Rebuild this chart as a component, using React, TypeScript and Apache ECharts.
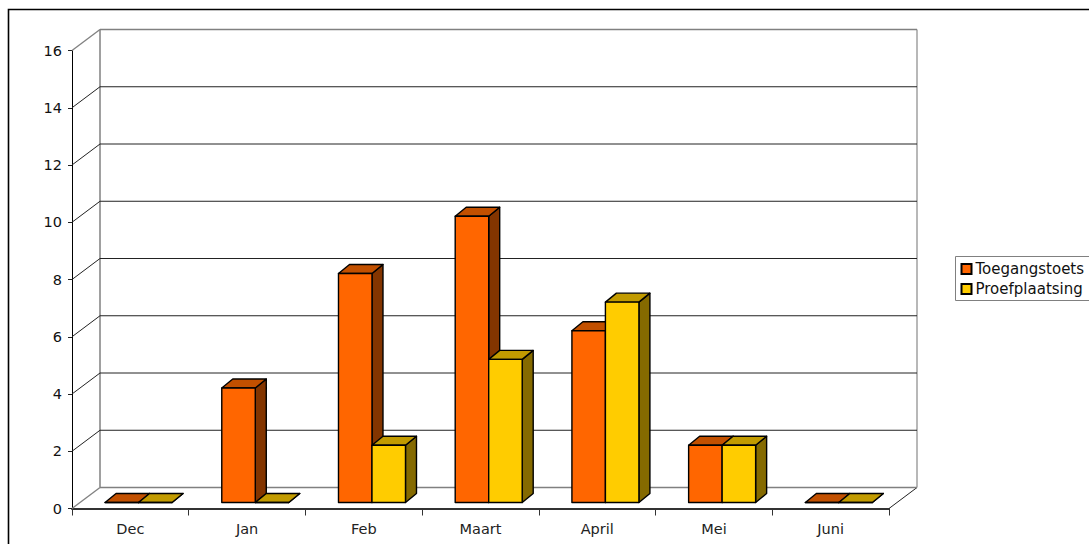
import React, { useEffect, useRef } from "react";
import * as echarts from "echarts";

const categories = ["Dec", "Jan", "Feb", "Maart", "April", "Mei", "Juni"];
const toegangstoets = [0, 4, 8, 10, 6, 2, 0];
const proefplaatsing = [0, 0, 2, 5, 7, 2, 0];
const yTicks = [0, 2, 4, 6, 8, 10, 12, 14, 16];
const seriesNames = ["Toegangstoets", "Proefplaatsing"];

const FONT = "'DejaVu Sans', Verdana, sans-serif";
const WALL_DX = 28;
const WALL_DY = -21;
const BAR_SHIFT_X = 8.2;
const BAR_SHIFT_Y = -6;
const BAR_W = 33.5;
const BAR_DX = 11;
const BAR_DY = -9;

const wallItem = (params: any, api: any) => {
  const v = api.value(0);
  const cs = params.coordSys;
  const y = api.coord([0, v])[1];
  const x0 = cs.x;
  const x1 = cs.x + cs.width;
  const isEdge = v === 0 || v === yTicks[yTicks.length - 1];
  const stroke = isEdge ? "#808080" : "#222222";
  const width = isEdge ? 1.5 : 1;
  const children: any[] = [];
  if (v === 0) {
    const top = cs.y + WALL_DY;
    children.push({
      type: "line",
      shape: { x1: x0 + WALL_DX, y1: top, x2: x0 + WALL_DX, y2: y + WALL_DY },
      style: { stroke: "#808080", lineWidth: 1.5 },
    });
    children.push({
      type: "line",
      shape: { x1: x1 + WALL_DX, y1: top, x2: x1 + WALL_DX, y2: y + WALL_DY },
      style: { stroke: "#a0a0a0", lineWidth: 1.5 },
    });
    children.push({
      type: "line",
      shape: { x1: x1, y1: y, x2: x1 + WALL_DX, y2: y + WALL_DY },
      style: { stroke: "#222222", lineWidth: 1 },
    });
  }
  children.push({
    type: "line",
    shape: { x1: x0 + WALL_DX, y1: y + WALL_DY, x2: x1 + WALL_DX, y2: y + WALL_DY },
    style: { stroke, lineWidth: width },
  });
  children.push({
    type: "line",
    shape: { x1: x0, y1: y, x2: x0 + WALL_DX, y2: y + WALL_DY },
    style: { stroke, lineWidth: v === 0 || v === 16 ? 1.3 : 1 },
  });
  return { type: "group", children };
};

const barItem = (side: number, front: string, topC: string, sideC: string) => (_p: any, api: any) => {
  const i = api.value(0);
  const v = api.value(1);
  const [cx, yVal] = api.coord([i, v]);
  const yZero = api.coord([i, 0])[1];
  const xl = cx + BAR_SHIFT_X + (side === 0 ? -BAR_W : 0);
  const xr = xl + BAR_W;
  const yb = yZero + BAR_SHIFT_Y;
  const yt = yVal + BAR_SHIFT_Y;
  const border = { stroke: "#000000", lineWidth: 1.4, lineJoin: "round" };
  return {
    type: "group",
    children: [
      {
        type: "polygon",
        shape: { points: [[xr, yb], [xr + BAR_DX, yb + BAR_DY], [xr + BAR_DX, yt + BAR_DY], [xr, yt]] },
        style: { fill: sideC, ...border },
      },
      {
        type: "polygon",
        shape: { points: [[xl, yt], [xl + BAR_DX, yt + BAR_DY], [xr + BAR_DX, yt + BAR_DY], [xr, yt]] },
        style: { fill: topC, ...border },
      },
      {
        type: "rect",
        shape: { x: xl, y: yt, width: BAR_W, height: yb - yt },
        style: { fill: front, ...border },
      },
    ],
  };
};

export default function App() {
  const ref = useRef<HTMLDivElement>(null);
  useEffect(() => {
    const chart = echarts.init(ref.current!, undefined, { renderer: "svg" });
    chart.setOption({
      animation: false,
      backgroundColor: "#ffffff",
      textStyle: { fontFamily: FONT },
      grid: { left: 72, top: 50.5, width: 817, height: 458 },
      legend: {
        data: seriesNames,
        orient: "vertical",
        left: 955.5,
        top: 256.5,
        padding: [5, 40, 4, 5],
        itemGap: 5,
        itemWidth: 10,
        itemHeight: 10,
        icon: "rect",
        borderColor: "#808080",
        borderWidth: 1,
        backgroundColor: "#ffffff",
        textStyle: { fontFamily: FONT, fontSize: 15, color: "#111111", padding: [1, 0, 0, -1] },
        selectedMode: false,
      },
      xAxis: {
        type: "category",
        data: categories,
        boundaryGap: true,
        axisLine: { lineStyle: { color: "#333333", width: 2 } },
        axisTick: { show: true, length: 7, interval: 0, lineStyle: { color: "#333333", width: 1 }, alignWithLabel: false },
        axisLabel: { fontFamily: FONT, fontSize: 14.5, color: "#222222", margin: 13 },
        splitLine: { show: false },
      },
      yAxis: {
        type: "value",
        min: 0,
        max: 16,
        interval: 2,
        axisLine: { show: true, lineStyle: { color: "#000000", width: 1 } },
        axisTick: { show: true, length: 4, lineStyle: { color: "#222222", width: 1 } },
        axisLabel: { fontFamily: FONT, fontSize: 14.5, color: "#111111", margin: 10 },
        splitLine: { show: false },
      },
      graphic: [
        {
          type: "rect",
          shape: { x: 8.5, y: 9.5, width: 1200, height: 700 },
          style: { fill: "transparent", stroke: "#000000", lineWidth: 1.6 },
          silent: true,
          z: 100,
        },
      ],
      series: [
        {
          type: "custom",
          name: "wall",
          silent: true,
          z: 1,
          clip: false,
          renderItem: wallItem,
          encode: { y: 0 },
          data: yTicks.map((t) => [t]),
        },
        {
          type: "custom",
          name: seriesNames[0],
          z: 2,
          clip: false,
          itemStyle: { color: "#FF6600", borderColor: "#000000", borderWidth: 1 },
          renderItem: barItem(0, "#FF6600", "#C25000", "#833500"),
          encode: { x: 0, y: 1 },
          data: toegangstoets.map((v, i) => [i, v]),
        },
        {
          type: "custom",
          name: seriesNames[1],
          z: 3,
          clip: false,
          itemStyle: { color: "#FFCC00", borderColor: "#000000", borderWidth: 1 },
          renderItem: barItem(1, "#FFCC00", "#C29B00", "#856A00"),
          encode: { x: 0, y: 1 },
          data: proefplaatsing.map((v, i) => [i, v]),
        },
      ],
    });
    return () => chart.dispose();
  }, []);
  return (
    <div
      ref={ref}
      style={{ position: "fixed", left: 0, top: 0, width: 1089, height: 544, overflow: "hidden" }}
    />
  );
}
